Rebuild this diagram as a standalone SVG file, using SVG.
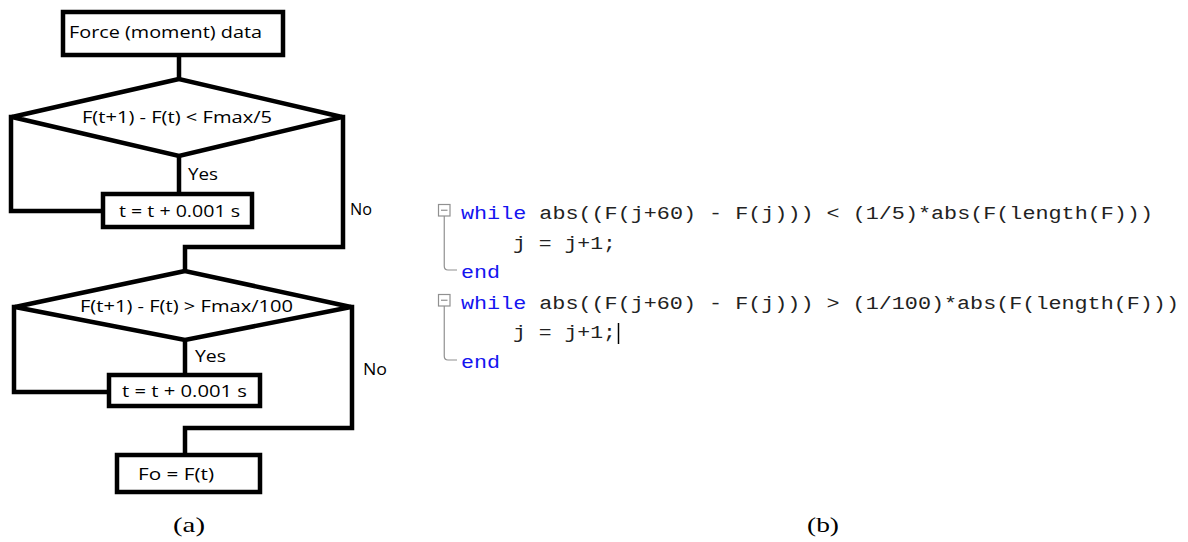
<svg xmlns="http://www.w3.org/2000/svg" width="1188" height="542" viewBox="0 0 1188 542">
  <style>
    .shape { fill: #fff; stroke: #000; stroke-width: 4.5; stroke-linejoin: miter; }
    .wire { fill: none; stroke: #000; stroke-width: 4.5; stroke-linejoin: miter; stroke-linecap: square; }
    .lbl { font-family: "Open Sans", "Liberation Sans", sans-serif; font-size: 17px; fill: #000; }
    .cap { font-family: "Liberation Serif", "Times New Roman", serif; font-size: 21px; fill: #000; }
    .code { font-family: "Liberation Mono", "Courier New", monospace; font-size: 19px; fill: #222; }
    .kw { fill: #1414f0; }
    .fold { fill: #fff; stroke: #909090; stroke-width: 1.2; }
    .foldline { fill: none; stroke: #909090; stroke-width: 1.2; }
  </style>

  <rect width="1188" height="542" fill="#fff"/>

  <!-- (a) flowchart -->
  <g id="connectors">
    <path class="wire" d="M179 57 V78"/>
    <path class="wire" d="M179 157 V192"/>
    <path class="wire" d="M11 117 V211 H101"/>
    <path class="wire" d="M343 117 V247 H185 V270"/>
    <path class="wire" d="M185 341 V373"/>
    <path class="wire" d="M14 307 V392 H107"/>
    <path class="wire" d="M352 307 V428 H185 V453"/>
  </g>

  <g id="start">
    <rect class="shape" x="63" y="12" width="220" height="43"/>
    <text class="lbl" x="69" y="38" textLength="193" lengthAdjust="spacingAndGlyphs">Force (moment) data</text>
  </g>

  <g id="check1">
    <polygon class="shape" points="179,79 12,117 179,156 342,117"/>
    <text class="lbl" x="82" y="123" textLength="190" lengthAdjust="spacingAndGlyphs">F(t+1) - F(t) &lt; Fmax/5</text>
  </g>

  <g id="step1">
    <rect class="shape" x="103" y="194" width="149" height="33"/>
    <text class="lbl" x="119" y="217" textLength="121" lengthAdjust="spacingAndGlyphs">t = t + 0.001 s</text>
  </g>

  <g id="check2">
    <polygon class="shape" points="185,271 15,307 185,340 351,307"/>
    <text class="lbl" x="80" y="312" textLength="213" lengthAdjust="spacingAndGlyphs">F(t+1) - F(t) &gt; Fmax/100</text>
  </g>

  <g id="step2">
    <rect class="shape" x="109" y="375" width="151" height="31"/>
    <text class="lbl" x="122" y="397" textLength="125" lengthAdjust="spacingAndGlyphs">t = t + 0.001 s</text>
  </g>

  <g id="result">
    <rect class="shape" x="117" y="455" width="143" height="37"/>
    <text class="lbl" x="138" y="480" textLength="76" lengthAdjust="spacingAndGlyphs">Fo = F(t)</text>
  </g>

  <g id="edge-labels">
    <text class="lbl" x="188" y="180" textLength="30" lengthAdjust="spacingAndGlyphs">Yes</text>
    <text class="lbl" x="350" y="215" textLength="22" lengthAdjust="spacingAndGlyphs">No</text>
    <text class="lbl" x="195" y="362" textLength="31" lengthAdjust="spacingAndGlyphs">Yes</text>
    <text class="lbl" x="363" y="375" textLength="24" lengthAdjust="spacingAndGlyphs">No</text>
  </g>

  <!-- (b) MATLAB loop code -->
  <g id="code">
    <rect class="fold" x="438.5" y="204.5" width="11.5" height="11.5"/>
    <path class="foldline" d="M441 210.25 H447.5"/>
    <path class="foldline" d="M444.25 216 V266 Q444.25 270 448 270 H457"/>
    <rect class="fold" x="438.5" y="294.5" width="11.5" height="11.5"/>
    <path class="foldline" d="M441 300.25 H447.5"/>
    <path class="foldline" d="M444.25 306 V356 Q444.25 360 448 360 H457"/>

    <text class="code" x="461" y="219" textLength="692" lengthAdjust="spacingAndGlyphs" xml:space="preserve"><tspan class="kw">while</tspan> abs((F(j+60) - F(j))) &lt; (1/5)*abs(F(length(F)))</text>
    <text class="code" x="513" y="248.5" textLength="103" lengthAdjust="spacingAndGlyphs" xml:space="preserve">j = j+1;</text>
    <text class="code kw" x="461" y="278" textLength="39" lengthAdjust="spacingAndGlyphs">end</text>
    <text class="code" x="461" y="308.5" textLength="718" lengthAdjust="spacingAndGlyphs" xml:space="preserve"><tspan class="kw">while</tspan> abs((F(j+60) - F(j))) &gt; (1/100)*abs(F(length(F)))</text>
    <text class="code" x="513" y="338" textLength="103" lengthAdjust="spacingAndGlyphs" xml:space="preserve">j = j+1;</text>
    <path d="M618.5 323 V344" stroke="#000" stroke-width="1.5"/>
    <text class="code kw" x="461" y="367.5" textLength="39" lengthAdjust="spacingAndGlyphs">end</text>
  </g>

  <g id="captions">
    <text class="cap" x="173" y="532" textLength="32" lengthAdjust="spacingAndGlyphs">(a)</text>
    <text class="cap" x="807" y="532" textLength="32" lengthAdjust="spacingAndGlyphs">(b)</text>
  </g>
</svg>
